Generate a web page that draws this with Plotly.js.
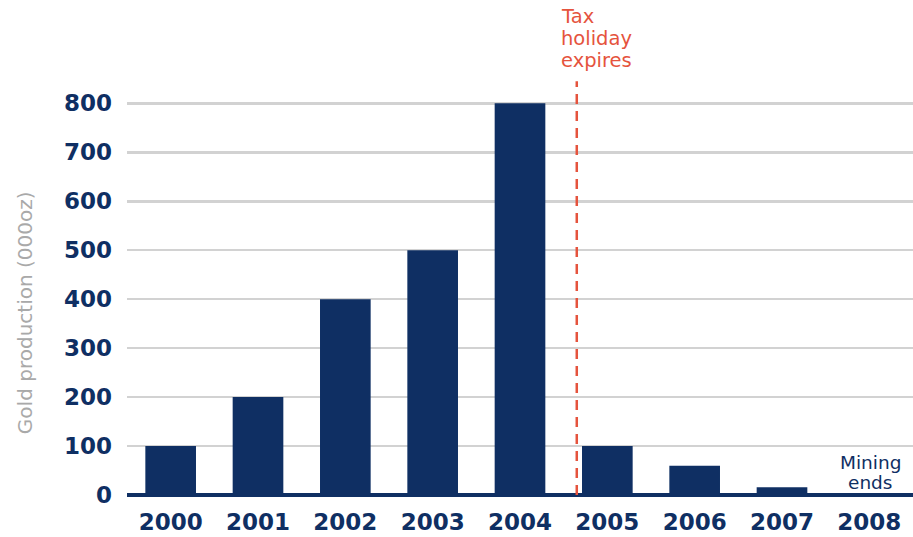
<!DOCTYPE html>
<html>
<head>
<meta charset="utf-8">
<script src="https://cdn.plot.ly/plotly-3.0.1.min.js"></script>
<style>html,body{margin:0;padding:0;background:#fff;}#chart{width:913px;height:537px;}</style>
</head>
<body>
<div id="chart"></div>
<script>
const years = ["2000","2001","2002","2003","2004","2005","2006","2007","2008"];
const production = [100, 200, 400, 500, 800, 100, 60, 16, 0];
const yTicks = [0, 100, 200, 300, 400, 500, 600, 700, 800];
const holidayX = 4.65;
const holidayTop = 845;
const holidayLines = ["Tax", "holiday", "expires"];
const endLines = ["Mining", "ends"];
const endYear = 8;
const yTitle = "Gold production (000oz)";

const navy = "#0f2f63";
const red = "#e5533d";
const face = "'DejaVu Sans', sans-serif";

const data = [{
  type: "bar",
  x: years.map((_, i) => i),
  y: production,
  marker: {color: navy, line: {width: 0}},
  hoverinfo: "x+y"
}, {
  type: "scatter",
  mode: "lines",
  x: [holidayX, holidayX],
  y: [0, holidayTop],
  line: {color: red, width: 2.5, dash: "10px,7px"},
  hoverinfo: "skip",
  cliponaxis: false
}];

const annotations = [];
holidayLines.forEach((t, i) => annotations.push({
  x: holidayX, y: holidayTop, xref: "x", yref: "y",
  text: t, showarrow: false,
  xanchor: "left", yanchor: "middle", align: "left",
  xshift: -18, yshift: 65 - 22 * i,
  font: {size: 19.5, color: red, family: face}
}));
endLines.forEach((t, i) => annotations.push({
  x: endYear, y: 0, xref: "x", yref: "y",
  text: t, showarrow: false,
  xanchor: "center", yanchor: "middle", align: "center",
  xshift: 1, yshift: 33 - 20 * i,
  font: {size: 18.5, color: navy, family: face}
}));
annotations.push({
  x: 0, y: 0.432, xref: "paper", yref: "paper",
  text: yTitle, showarrow: false, textangle: -90,
  xanchor: "center", yanchor: "middle",
  xshift: -102,
  font: {size: 20, color: "#a9a9a9", family: face}
});

const layout = {
  width: 913, height: 537,
  margin: {l: 127, r: 0, t: 74, b: 42},
  paper_bgcolor: "#fff", plot_bgcolor: "#fff",
  showlegend: false,
  bargap: 0.42,
  font: {family: face, color: navy},
  xaxis: {
    range: [-0.5, 8.5],
    tickmode: "array",
    tickvals: years.map((_, i) => i),
    ticktext: years,
    showgrid: false, zeroline: false, showline: false,
    ticks: "",
    ticklabelstandoff: 11,
    tickfont: {size: 23, color: navy, family: face, weight: 700},
    fixedrange: true
  },
  yaxis: {
    range: [0, 860],
    tickmode: "array",
    tickvals: yTicks,
    ticktext: yTicks.map(String),
    showgrid: true, gridcolor: "#d2d2d2", gridwidth: 2.5,
    zeroline: true, zerolinecolor: navy, zerolinewidth: 4.5,
    showline: false, ticks: "",
    ticklabelstandoff: 14,
    tickfont: {size: 23, color: navy, family: face, weight: 700},
    fixedrange: true
  },
  annotations: annotations
};

Plotly.newPlot("chart", data, layout, {displayModeBar: false, staticPlot: true});
</script>
</body>
</html>
